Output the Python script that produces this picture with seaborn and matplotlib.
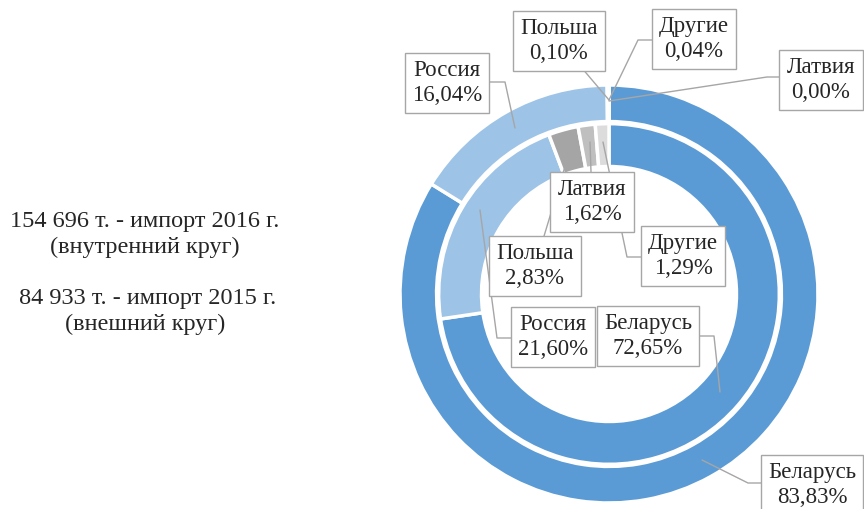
import matplotlib
matplotlib.use("Agg")
import matplotlib.pyplot as plt
import seaborn as sns

# Data
countries = ["Беларусь", "Россия", "Польша", "Латвия", "Другие"]
share_2015 = [83.83, 16.04, 0.10, 0.00, 0.04]   # outer ring
share_2016 = [72.65, 21.60, 2.83, 1.62, 1.29]   # inner ring
note = "154 696 т. - импорт 2016 г.\n(внутренний круг)\n\n 84 933 т. - импорт 2015 г.\n(внешний круг)"

sns.set_style("white")
plt.rcParams["font.family"] = ["Liberation Serif", "DejaVu Serif"]

colors = sns.color_palette(["#5B9BD5", "#9DC3E6", "#A5A5A5", "#BFBFBF", "#DCDCDC"])

fig = plt.figure(figsize=(8.64, 5.09), dpi=100)
ax = fig.add_axes([0, 0, 1, 1])

# pixel -> data helper (center of rings at pixel 609,294, radius 209 px)
CX, CY, R = 609, 294, 209
def px(x, y):
    return ((x - CX) / R, (CY - y) / R)

ax.pie(share_2015, colors=colors, radius=1.0, startangle=90, counterclock=False,
       wedgeprops=dict(width=0.175, edgecolor="white", linewidth=2.5))
ax.pie(share_2016, colors=colors, radius=0.815, startangle=90, counterclock=False,
       wedgeprops=dict(width=0.205, edgecolor="white", linewidth=2.5))

ax.set_xlim(-609 / R, (864 - 609) / R)
ax.set_ylim(-(509 - 294) / R, 294 / R)
ax.set_aspect("equal")
ax.axis("off")

box = dict(boxstyle="square,pad=0.32", fc="white", ec="#A6A6A6", lw=1)

def fmt(v):
    return f"{v:.2f}%".replace(".", ",")

# label box centers and leader polylines (pixels)
outer_pos = [((812, 485), [(812, 483), (748, 483), (702, 460)]),
             ((447, 83), [(447, 82), (505, 82), (515, 128)]),
             ((559, 41), [(559, 41), (609, 100)]),
             ((821, 80), [(821, 77), (767, 77), (609, 101)]),
             ((694, 39), [(694, 40), (638, 40), (609, 100)])]
inner_pos = [((648, 336), [(648, 336), (714, 336), (720, 392)]),
             ((553, 337), [(553, 338), (497, 338), (480, 210)]),
             ((535, 266), [(535, 266), (570, 150)]),
             ((592, 202), [(592, 202), (590, 142)]),
             ((683, 256), [(683, 257), (627, 257), (603, 142)])]

for vals, pos in [(share_2015, outer_pos), (share_2016, inner_pos)]:
    for name, v, (bc, path) in zip(countries, vals, pos):
        pts = [px(*p) for p in path]
        ax.plot([p[0] for p in pts], [p[1] for p in pts], color="#A6A6A6", lw=1, zorder=3)
        ax.text(*px(*bc), f"{name}\n{fmt(v)}", ha="center", va="center", fontsize=16.5,
                linespacing=1.22, bbox=box, multialignment="center", zorder=4)

ax.text(*px(145, 273), note, ha="center", va="center", fontsize=17.5,
        linespacing=1.28, multialignment="center")

fig.savefig("out.png", dpi=100)
